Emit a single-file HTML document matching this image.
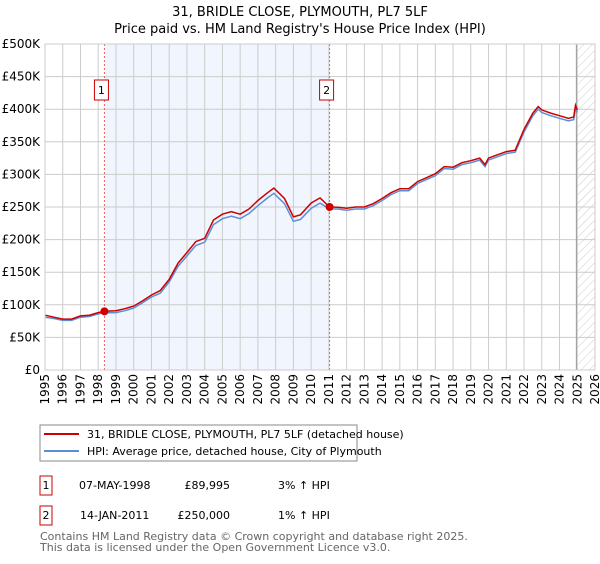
<!DOCTYPE html>
<html><head><meta charset="utf-8"><style>
body{margin:0;background:#fff;font-family:"DejaVu Sans","Liberation Sans",sans-serif}
svg text{font-family:"DejaVu Sans","Liberation Sans",sans-serif}
</style></head><body>
<svg id="c" width="600" height="560" xmlns="http://www.w3.org/2000/svg">
<defs><pattern id="hatch" width="6" height="6" patternUnits="userSpaceOnUse" patternTransform="rotate(45)"><line x1="0" y1="0" x2="0" y2="6" stroke="#ccc" stroke-width="1"/></pattern></defs>
<text x="300" y="16" text-anchor="middle" font-size="13">31, BRIDLE CLOSE, PLYMOUTH, PL7 5LF</text>
<text x="300" y="33" text-anchor="middle" font-size="13">Price paid vs. HM Land Registry's House Price Index (HPI)</text>
<g id="plot"></g>
<g>
<rect x="40" y="425" width="317" height="36" fill="#fff" stroke="#888"/>
<line x1="44" y1="434" x2="79" y2="434" stroke="#cc0000" stroke-width="2"/>
<text x="87" y="438" font-size="11">31, BRIDLE CLOSE, PLYMOUTH, PL7 5LF (detached house)</text>
<line x1="44" y1="451" x2="79" y2="451" stroke="#5b8fd4" stroke-width="2"/>
<text x="87" y="455" font-size="11">HPI: Average price, detached house, City of Plymouth</text>
</g>
<g font-size="11">
<rect x="40" y="476" width="12" height="19" fill="#fff" stroke="#cc0000"/><text x="46" y="489" text-anchor="middle">1</text>
<text x="79" y="489">07-MAY-1998</text><text x="230" y="489" text-anchor="end">£89,995</text><text x="278" y="489">3% ↑ HPI</text>
<rect x="40" y="506" width="12" height="19" fill="#fff" stroke="#cc0000"/><text x="46" y="519" text-anchor="middle">2</text>
<text x="80" y="519">14-JAN-2011</text><text x="230" y="519" text-anchor="end">£250,000</text><text x="278" y="519">1% ↑ HPI</text>
</g>
<text x="40" y="540" font-size="11" fill="#666">Contains HM Land Registry data © Crown copyright and database right 2025.</text>
<text x="40" y="551" font-size="11" fill="#666">This data is licensed under the Open Government Licence v3.0.</text>
</svg>
<script>
const years=[1995,1995.5,1996,1996.5,1997,1997.5,1998,1998.35,1999,1999.5,2000,2000.5,2001,2001.5,2002,2002.5,2003,2003.5,2004,2004.5,2005,2005.5,2006,2006.5,2007,2007.5,2007.9,2008.5,2009,2009.4,2010,2010.5,2011.04,2011.5,2012,2012.5,2013,2013.5,2014,2014.5,2015,2015.5,2016,2016.5,2017,2017.5,2018,2018.5,2019,2019.5,2019.8,2020,2020.5,2021,2021.5,2022,2022.5,2022.8,2023,2023.5,2024,2024.5,2024.8,2024.9,2025];
const priceK=[84,81,78,78,83,84,88,90,91,94,98,106,115,122,139,164,180,197,202,230,239,243,239,247,260,271,279,263,235,238,256,264,250,249.5,248,250,250,255,263,272,278,278,289,295,301,312,311,318,321,325,315,325,330,335,337,369,394,404,399,394,390,386,388,406,399];
const hpiK=[81,79,76,76,81,82,86,87.5,88,91,95,103,112,118,135,159,175,191,196,223,232,236,232,240,252,263,271,255,228,231,248,256,247,247,245,247,247,252,260,269,275,275,286,292,298,309,308,315,318,322,312,322,327,332,334,365,390,400,395,390,386,382,384,402,395];
const yTicks=[0,50,100,150,200,250,300,350,400,450,500];
const yTickLabels=["£0","£50K","£100K","£150K","£200K","£250K","£300K","£350K","£400K","£450K","£500K"];
const xTicks=[1995,1996,1997,1998,1999,2000,2001,2002,2003,2004,2005,2006,2007,2008,2009,2010,2011,2012,2013,2014,2015,2016,2017,2018,2019,2020,2021,2022,2023,2024,2025,2026];
const sales=[{n:"1",t:1998.35,v:89.995},{n:"2",t:2011.04,v:250}];
const X0=45,X1=595,Y0=370,Y1=44;
const xs=t=>X0+(t-1995)/(2026-1995)*(X1-X0);
const ys=v=>Y0-v/500*(Y0-Y1);
const NS="http://www.w3.org/2000/svg";
const g=document.getElementById('plot');
function mk(tag,at,parent){const e=document.createElementNS(NS,tag);for(const k in at)e.setAttribute(k,at[k]);(parent||g).appendChild(e);return e;}
let e;
e=mk('rect',{x:xs(sales[0].t),y:Y1,width:xs(sales[1].t)-xs(sales[0].t),height:Y0-Y1,fill:'#f1f5fd'});


e=mk('rect',{x:xs(2024.95),y:Y1,width:X1-xs(2024.95),height:Y0-Y1,fill:'url(#hatch)'});


xTicks.forEach(t=>{
 e=mk('line',{x1:xs(t),x2:xs(t),y1:Y1,y2:Y0,stroke:'#ccc','stroke-width':1});
 
 
 e=mk('text',{x:0,y:0,'font-size':12,'text-anchor':'end',transform:`translate(${xs(t)+4},374) rotate(-90)`});
 e.textContent=t;
 
 
});
yTicks.forEach((v,i)=>{
 e=mk('line',{x1:X0,x2:X1,y1:ys(v),y2:ys(v),stroke:'#ccc','stroke-width':1});
 
 
 e=mk('text',{x:X0-5,y:ys(v)+4,'font-size':12,'text-anchor':'end'});
 e.textContent=yTickLabels[i];
 
 
});
e=mk('line',{x1:xs(2024.95),x2:xs(2024.95),y1:Y1,y2:Y0,stroke:'#999','stroke-width':1});


sales.forEach(s=>{
 e=mk('line',{x1:xs(s.t),x2:xs(s.t),y1:Y1,y2:Y0,stroke:'#f06060','stroke-dasharray':'2,2'});
 
 
 e=mk('rect',{x:xs(s.t)-10,y:80,width:14,height:20,fill:'#fff',stroke:'#cc0000'});
 
 
 e=mk('text',{x:xs(s.t)-3,y:94,'font-size':11,'text-anchor':'middle'});
 e.textContent=s.n;
 
 
});
const pts=a=>years.map((t,i)=>xs(t).toFixed(1)+','+ys(a[i]).toFixed(1)).join(' ');
e=mk('polyline',{points:pts(hpiK),fill:'none',stroke:'#5b8fd4','stroke-width':1.5});


e=mk('polyline',{points:pts(priceK),fill:'none',stroke:'#cc0000','stroke-width':1.5});


sales.forEach(s=>{
 e=mk('circle',{cx:xs(s.t),cy:ys(s.v),r:4,fill:'#cc0000'});
 
 
});
e=mk('rect',{x:X0,y:Y1,width:X1-X0,height:Y0-Y1,fill:'none',stroke:'#ccc'});


</script>
</body></html>
